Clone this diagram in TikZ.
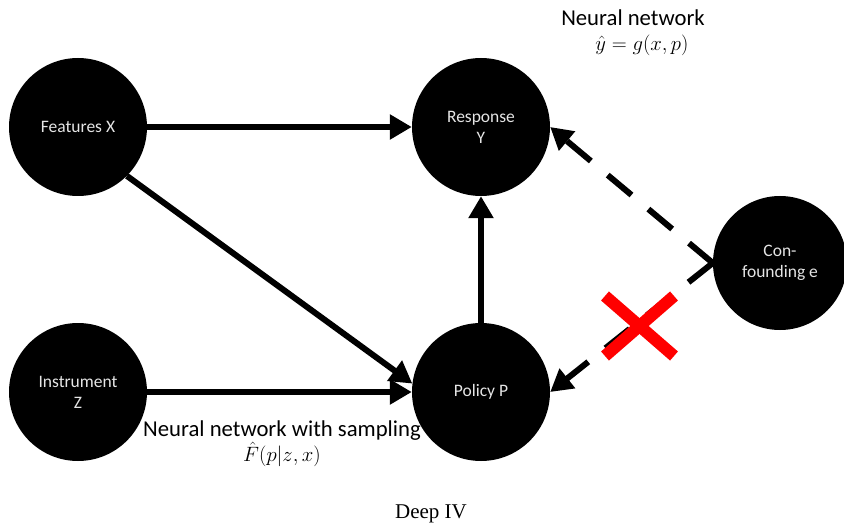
\documentclass[tikz,border=0pt]{standalone}
\usepackage{fontspec}
\setmainfont{Carlito}
\newfontfamily\capfont{Liberation Serif}
\usetikzlibrary{arrows.meta}
\begin{document}
\begin{tikzpicture}[x=1pt,y=-1pt,
  blob/.style={circle,fill=black,minimum size=138pt,inner sep=0pt,text=black!10,
    font=\fontsize{17.5}{21}\selectfont,align=center},
  arr/.style={line width=6pt,-{Triangle[length=22pt,width=24pt]}},
  darr/.style={arr,dash pattern=on 31pt off 22pt},
  lbl/.style={font=\fontsize{22.7}{25}\selectfont,align=center,inner sep=0pt},
  cross/.style={red,line width=12pt}]
\useasboundingbox (0,0) rectangle (844,524);
\node[blob] (X) at (78,127) {Features X};
\node[blob] (Y) at (481,127) {Response\\Y};
\node[blob] (Z) at (78,392) {Instrument\\Z};
\node[blob] (P) at (481,392) {Policy P};
\node[blob,minimum size=134pt] (E) at (780,263) {Con-\\founding e};
\draw[arr] (X) -- (Y);
\draw[arr] (X.-45) -- (P.173);
\draw[arr] (Z) -- (P);
\draw[arr] (P) -- (Y);
\draw[darr] (E.west) -- (Y.east);
\draw[darr] (E.west) -- (P.east);
\draw[cross] (605,296) -- (674,356);
\draw[cross] (605,356) -- (674,296);
\node[lbl,anchor=north] (l1) at (633,10) {Neural network\\\hspace*{18pt}$\hat{y}=g(x,p)$};
\node[lbl,anchor=north] (l2) at (282,421) {Neural network with sampling\\$\hat{F}(p|z,x)$};
\node[font=\capfont\fontsize{21}{24}\selectfont,anchor=base,inner sep=0pt] (cap) at (431,518) {Deep IV};
\end{tikzpicture}
\end{document}
